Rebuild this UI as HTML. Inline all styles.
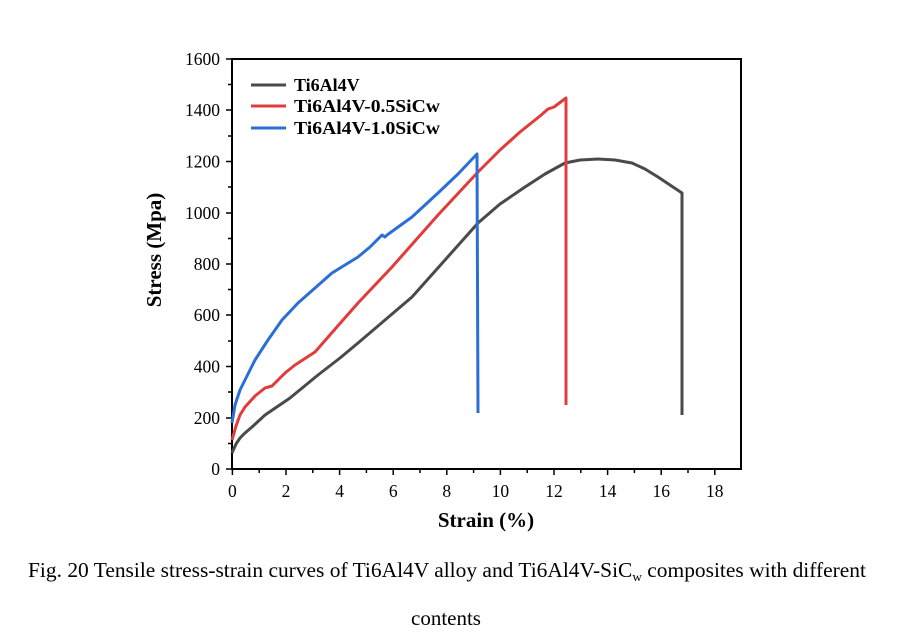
<!DOCTYPE html>
<html><head><meta charset="utf-8"><style>
html,body{margin:0;padding:0;background:#fff;}
svg{display:block;}
</style></head><body>
<svg width="900" height="632" xmlns="http://www.w3.org/2000/svg" font-family="Liberation Serif, serif">
<rect width="900" height="632" fill="#fff"/>
<g stroke="#000" stroke-width="2" fill="none">
<rect x="232" y="59" width="509" height="410"/>
</g>
<g stroke="#000" stroke-width="1.5">
<line x1="226" y1="469" x2="232" y2="469"/><line x1="226" y1="418" x2="232" y2="418"/>
<line x1="226" y1="366.5" x2="232" y2="366.5"/><line x1="226" y1="315" x2="232" y2="315"/>
<line x1="226" y1="264" x2="232" y2="264"/><line x1="226" y1="213" x2="232" y2="213"/>
<line x1="226" y1="161.5" x2="232" y2="161.5"/><line x1="226" y1="110" x2="232" y2="110"/>
<line x1="226" y1="59" x2="232" y2="59"/>
<line x1="228" y1="443.5" x2="232" y2="443.5"/><line x1="228" y1="392" x2="232" y2="392"/>
<line x1="228" y1="341" x2="232" y2="341"/><line x1="228" y1="289.5" x2="232" y2="289.5"/>
<line x1="228" y1="238.5" x2="232" y2="238.5"/><line x1="228" y1="187" x2="232" y2="187"/>
<line x1="228" y1="136" x2="232" y2="136"/><line x1="228" y1="84.5" x2="232" y2="84.5"/>
<line x1="232.4" y1="469" x2="232.4" y2="475"/><line x1="286" y1="469" x2="286" y2="475"/>
<line x1="339.6" y1="469" x2="339.6" y2="475"/><line x1="393.2" y1="469" x2="393.2" y2="475"/>
<line x1="446.8" y1="469" x2="446.8" y2="475"/><line x1="500.4" y1="469" x2="500.4" y2="475"/>
<line x1="554" y1="469" x2="554" y2="475"/><line x1="607.6" y1="469" x2="607.6" y2="475"/>
<line x1="661.2" y1="469" x2="661.2" y2="475"/><line x1="714.8" y1="469" x2="714.8" y2="475"/>
<line x1="259.2" y1="469" x2="259.2" y2="473"/><line x1="312.8" y1="469" x2="312.8" y2="473"/>
<line x1="366.4" y1="469" x2="366.4" y2="473"/><line x1="420" y1="469" x2="420" y2="473"/>
<line x1="473.6" y1="469" x2="473.6" y2="473"/><line x1="527.2" y1="469" x2="527.2" y2="473"/>
<line x1="580.8" y1="469" x2="580.8" y2="473"/><line x1="634.4" y1="469" x2="634.4" y2="473"/>
<line x1="688" y1="469" x2="688" y2="473"/>
</g>
<g font-size="17.5" fill="#000" text-anchor="end">
<text x="220" y="475">0</text><text x="220" y="424">200</text><text x="220" y="372.5">400</text>
<text x="220" y="321">600</text><text x="220" y="270">800</text><text x="220" y="219">1000</text>
<text x="220" y="167.5">1200</text><text x="220" y="116">1400</text><text x="220" y="65">1600</text>
</g>
<g font-size="17.5" fill="#000" text-anchor="middle">
<text x="232.4" y="497">0</text><text x="286" y="497">2</text><text x="339.6" y="497">4</text>
<text x="393.2" y="497">6</text><text x="446.8" y="497">8</text><text x="500.4" y="497">10</text>
<text x="554" y="497">12</text><text x="607.6" y="497">14</text><text x="661.2" y="497">16</text>
<text x="714.8" y="497">18</text>
</g>
<text x="486" y="527" font-size="21" font-weight="bold" text-anchor="middle">Strain (%)</text>
<text transform="translate(161,250) rotate(-90)" font-size="21" font-weight="bold" text-anchor="middle">Stress (Mpa)</text>
<g fill="none" stroke-width="3" stroke-linejoin="round">
<polyline stroke="#4a4a4a" points="232,453 236,444 240,438 245,433 252,427 265,415 290,398 318,375 340,358 358,343 385,320 412,297 445,260 478,223 500,204 525,187 545,174 565,163 580,160 598,159 615,160 632,163 645,169 658,177 670,185 682,193 682,415"/>
<polyline stroke="#e03c3c" points="232,440 236,426 240,415 245,407 255,396 265,388 272,386 285,373 295,365 315,352 336,328 358,303 392,267 438,215 478,172 500,150 520,132 540,116 548,109 554,107 566,98 566,405"/>
<polyline stroke="#2a6fd6" points="232,423 235,405 240,390 245,380 255,360 268,340 282,320 298,303 315,288 332,273 345,265 358,257 370,247 382,235 385,237 387,235 412,217 438,193 458,174 477,154 478,413"/>
</g>
<g stroke-width="3">
<line x1="251" y1="85" x2="286" y2="85" stroke="#4a4a4a"/>
<line x1="251" y1="106" x2="286" y2="106" stroke="#e03c3c"/>
<line x1="251" y1="128" x2="286" y2="128" stroke="#2a6fd6"/>
</g>
<g font-size="18" font-weight="bold" fill="#000">
<text x="294" y="91">Ti6Al4V</text>
<text x="294" y="112" textLength="146" lengthAdjust="spacingAndGlyphs">Ti6Al4V-0.5SiCw</text>
<text x="294" y="134" textLength="146" lengthAdjust="spacingAndGlyphs">Ti6Al4V-1.0SiCw</text>
</g>
<text x="28" y="577" font-size="21" textLength="838" lengthAdjust="spacingAndGlyphs">Fig. 20 Tensile stress-strain curves of Ti6Al4V alloy and Ti6Al4V-SiC<tspan font-size="13" dy="4">w</tspan><tspan dy="-4"> composites with different</tspan></text>
<text x="446" y="625" font-size="21" text-anchor="middle">contents</text>
</svg>
</body></html>
